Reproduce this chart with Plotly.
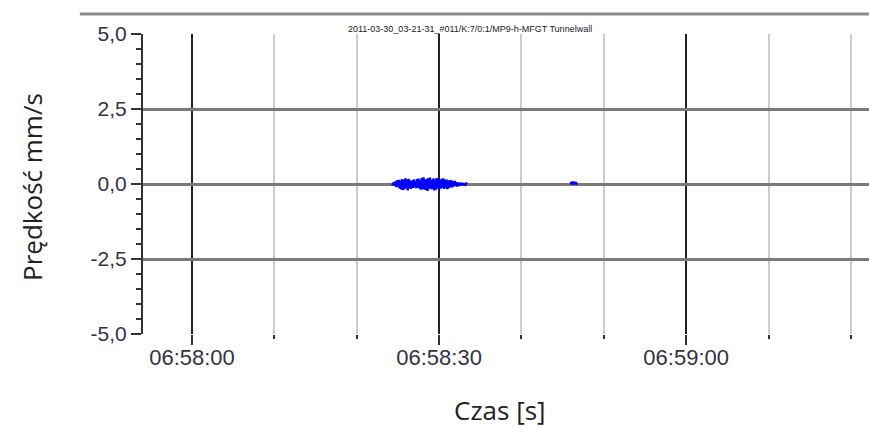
import pandas as pd
import plotly.graph_objects as go

# --- data ---
base_time = "2011-03-30 06:58:00"
burst_start_s = 24.3
burst_step_s = 0.1
burst_values = [
    0.02, -0.03, 0.05, -0.06, 0.08, -0.10, 0.12, -0.09, 0.14, -0.15,
    0.11, -0.18, 0.16, -0.20, 0.13, -0.17, 0.19, -0.12, 0.15, -0.21,
    0.17, -0.14, 0.12, -0.16, 0.10, -0.13, 0.15, -0.11, 0.09, -0.14,
    0.16, -0.12, 0.18, -0.15, 0.13, -0.19, 0.20, -0.16, 0.22, -0.18,
    0.14, -0.20, 0.17, -0.23, 0.19, -0.15, 0.21, -0.17, 0.13, -0.16,
    0.18, -0.21, 0.15, -0.19, 0.20, -0.14, 0.16, -0.18, 0.12, -0.15,
    0.17, -0.13, 0.19, -0.16, 0.14, -0.12, 0.15, -0.17, 0.11, -0.14,
    0.13, -0.10, 0.12, -0.11, 0.09, -0.08, 0.10, -0.07, 0.06, -0.08,
    0.05, -0.06, 0.04, -0.05, 0.04, -0.03, 0.03, -0.04, 0.02, -0.02,
    0.02, 0.00,
]
blip_times_s = [45.9, 46.0, 46.1, 46.2, 46.3, 46.4, 46.5, 46.6, 46.7, 46.8]
blip_values = [0.02, 0.04, 0.03, 0.04, 0.02, 0.04, 0.03, 0.04, 0.02, 0.03]

y_ticks = [-5.0, -2.5, 0.0, 2.5, 5.0]
y_tick_labels = ["-5,0", "-2,5", "0,0", "2,5", "5,0"]
x_range_s = [-5.95, 82.2]
title_text = "2011-03-30_03-21-31_#011/K:7/0:1/MP9-h-MFGT Tunnelwall"
y_title = "Prędkość mm/s"
x_title = "Czas [s]"

t0 = pd.Timestamp(base_time)
def ts(s):
    return t0 + pd.to_timedelta(s, unit="s")

burst_x = [ts(burst_start_s + i * burst_step_s) for i in range(len(burst_values))]
blip_x = [ts(s) for s in blip_times_s]

fig = go.Figure()
fig.add_trace(go.Scatter(x=burst_x, y=burst_values, mode="lines",
                         line=dict(color="#0000ff", width=2.5), showlegend=False))
fig.add_trace(go.Scatter(x=blip_x, y=blip_values, mode="lines",
                         line=dict(color="#0000ff", width=3), showlegend=False))

fig.update_layout(
    width=869, height=428,
    margin=dict(l=143, r=0, t=34, b=94),
    paper_bgcolor="white", plot_bgcolor="white",
    separators=",.",
    showlegend=False,
    xaxis=dict(
        type="date",
        range=[ts(x_range_s[0]), ts(x_range_s[1])],
        tick0=ts(0), dtick=30000, tickformat="%H:%M:%S",
        showgrid=True, gridcolor="#222222", gridwidth=1.5,
        ticks="outside", ticklen=10, tickwidth=1.5, tickcolor="#333333",
        tickfont=dict(family="Liberation Sans, Arial", size=22, color="#333344"),
        ticklabelstandoff=-6,
        showline=False, zeroline=False,
        minor=dict(dtick=10000, tick0=ts(0), showgrid=True, gridcolor="#cccccc",
                   gridwidth=1.5, ticks="outside", ticklen=4, tickcolor="#333333"),
    ),
    yaxis=dict(
        range=[-5, 5], tickvals=y_ticks, ticktext=y_tick_labels,
        showgrid=True, gridcolor="#7a7a7a", gridwidth=2.5,
        zeroline=False,
        showline=True, linecolor="#333333", linewidth=2,
        ticks="outside", ticklen=10, tickwidth=1.5, tickcolor="#333333",
        tickfont=dict(family="Liberation Sans, Arial", size=21, color="#333344"),
        minor=dict(dtick=0.5, ticks="outside", ticklen=5, tickcolor="#333333",
                   showgrid=False),
    ),
    annotations=[
        dict(text=title_text, xref="paper", yref="paper", x=0.451, y=1.04,
             showarrow=False, font=dict(family="Liberation Sans Narrow, Liberation Sans", size=9, color="#222222")),
        dict(text=y_title, xref="paper", yref="paper", x=-0.153, y=0.49,
             textangle=-90, showarrow=False, xanchor="center", yanchor="middle",
             font=dict(family="Open Sans", size=26, color="#222222")),
        dict(text=x_title, xref="paper", yref="paper", x=0.492, y=-0.253,
             showarrow=False, xanchor="center", yanchor="middle",
             font=dict(family="Open Sans", size=26, color="#222222")),
    ],
    shapes=[
        dict(type="line", xref="paper", yref="paper", x0=-0.087, x1=1.0,
             y0=1.0667, y1=1.0667, line=dict(color="#8a8a8a", width=3)),
    ],
)

fig.write_html("out.html", config={"displayModeBar": False},
               post_script="document.body.style.margin='0';document.body.style.overflow='hidden';")
